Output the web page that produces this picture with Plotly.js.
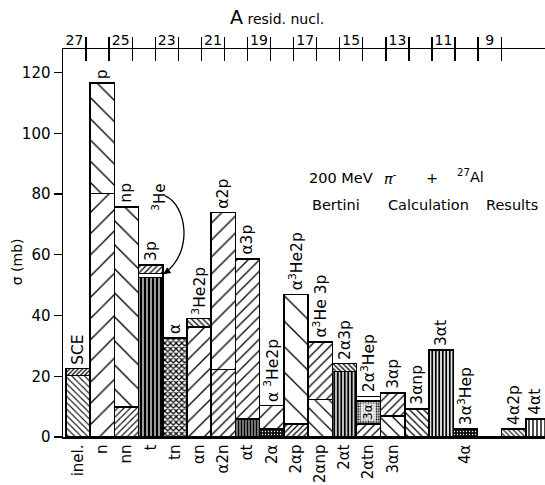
<!DOCTYPE html>
<html><head><meta charset="utf-8">
<script src="https://cdn.plot.ly/plotly-3.0.1.min.js"></script>
<style>html,body{margin:0;padding:0;background:#fff}#chart{width:545px;height:485px}</style>
</head><body><div id="chart"></div>
<script>
// ---- data ----
const bottomLabels = ['inel.','n','nn','t','tn','αn','α2n','αt','2α','2αp','2αnp','2αt','2αtn','3αn','','','4α','','',''];
const topLabels = ['SCE','p','np','3p','α','<sup>3</sup>He2p','α2p','α3p','α <sup>3</sup>He2p','α<sup>3</sup>He2p','α<sup>3</sup>He 3p','2α3p','2α<sup>3</sup>Hep','3αp','3αnp','3αt','3α<sup>3</sup>Hep','','4α2p','4αt'];
const lowerValues  = [20.3, 80.2, 9.9, 52.5, 32.6, 36.2, 22.3, 6.0, 2.6, 4.3, 12.3, 21.5, 4.3, 7.0, 9.3, 28.7, 2.7, 0, 2.6, 6.0];
const middleValues = [0, 0, 0, 1.3, 0, 0, 0, 0, 0, 0, 0, 0, 7.6, 0, 0, 0, 0, 0, 0, 0];
const upperValues  = [2.2, 36.4, 65.8, 2.8, 0, 2.8, 51.7, 52.6, 7.7, 42.7, 19.0, 2.7, 1.4, 7.5, 0, 0, 0, 0, 0, 0];
const residA = [27, 25, 23, 21, 19, 17, 15, 13, 11, 9];
const residBounds = [26.5, 25.5, 24.5, 23.5, 22.5, 21.5, 20.5, 19.5, 18.5, 17.5, 16.5, 15.5, 14.5, 13.5, 12.5, 11.5, 10.5, 9.5, 8.5];
const yTicks = [0, 20, 40, 60, 80, 100, 120];

// ---- styles ----
const F = 'DejaVu Sans';
const W = '#fff', K = '#000';
const lowerStyle = {
  shape:    ['\\','/','/','|','x','/','/','|','.','/','\\','|','/','\\','\\','|','.','','\\','|'],
  size:     [4.5, 15, 4.5, 4, 4, 11, 7, 3, 3, 4, 10, 3.5, 6, 9, 5, 3.5, 3, 4, 3.5, 4],
  solidity: [0.25,0.09,0.25,0.7,0.5,0.12,0.18,0.7,0.15,0.3,0.12,0.6,0.2,0.14,0.25,0.55,0.15,0.2,0.3,0.35],
  fg: [K,K,K,K,K,K,K,K,W,K,K,K,K,K,K,K,W,K,K,K],
  bg: [W,W,W,W,W,W,W,W,'#111',W,W,W,W,W,W,W,'#111',W,W,W]
};
const middleStyle = {
  shape:    ['','','','','','','','','','','','','.','','','','','','',''],
  size:     Array(20).fill(2.6),
  solidity: Array(20).fill(0.45)
};
const upperStyle = {
  shape:    ['/','\\','\\','/','','\\','/','/','/','\\','/','\\','','/','','','','','',''],
  size:     [3, 15, 17, 4, 4, 4, 12, 8, 10, 18, 7, 3.5, 4, 6, 4, 4, 4, 4, 4, 4],
  solidity: [0.4,0.09,0.08,0.3,0.3,0.3,0.11,0.16,0.13,0.075,0.18,0.35,0.3,0.2,0.3,0.3,0.3,0.3,0.3,0.3]
};

const idx = bottomLabels.map((_, i) => i);
const labelled = idx.filter(i => bottomLabels[i] !== '');
const line = {color: K, width: 1.5};

function barTrace(vals, st) {
  return {
    type: 'bar', x: idx, y: vals, width: 1, hoverinfo: 'skip',
    marker: {color: W, line: line,
      pattern: {shape: st.shape, size: st.size, solidity: st.solidity,
        fgcolor: st.fg || K, bgcolor: st.bg || W, fgopacity: 1}}
  };
}
const traces = [barTrace(lowerValues, lowerStyle), barTrace(middleValues, middleStyle), barTrace(upperValues, upperStyle)];
// invisible anchors so the top (residual-nucleus) axes are built
['x2', 'x3', 'x4'].forEach(ax => traces.push({type: 'scatter', mode: 'markers', x: [residA[0]], y: [0], xaxis: ax,
  marker: {opacity: 0, size: 1}, hoverinfo: 'skip', showlegend: false}));

const annotations = [];
topLabels.forEach((t, i) => {
  if (!t) return;
  const tot = lowerValues[i] + middleValues[i] + upperValues[i];
  annotations.push({x: i, y: tot, xref: 'x', yref: 'y', text: t, textangle: -90, showarrow: false,
    xanchor: 'center', yanchor: 'bottom', yshift: 2, xshift: i === idx.length - 1 ? -3 : 0,
    font: {family: F, size: 15.5, color: K}});
});
// 3He label with curved arrow
annotations.push({x: 3.35, y: 73.8, xref: 'x', yref: 'y', text: '<sup>3</sup>He', textangle: -90, showarrow: false,
  xanchor: 'center', yanchor: 'bottom', font: {family: F, size: 15, color: K}});
annotations.push({x: 3.52, y: 53.6, xref: 'x', yref: 'y', text: '', showarrow: true, arrowhead: 2, arrowsize: 1.2,
  arrowwidth: 1.2, ax: 7, ay: -5, arrowcolor: K});
// 3α inside bar
annotations.push({x: 12, y: lowerValues[12] + middleValues[12] / 2, xref: 'x', yref: 'y', text: '3α', textangle: -90,
  showarrow: false, font: {family: F, size: 12, color: K}, bgcolor: 'rgba(255,255,255,0.75)', borderpad: 0});
// axis titles and texts
annotations.push({x: 0.445, y: 1.0825, xref: 'paper', yref: 'paper', xanchor: 'center', yanchor: 'middle', showarrow: false,
  text: '<span style="font-size:19px">A</span> <span style="font-size:14px">resid. nucl.</span>',
  font: {family: F, size: 14, color: K}});
annotations.push({x: -0.095, y: 0.451, xref: 'paper', yref: 'paper', xanchor: 'center', yanchor: 'middle',
  showarrow: false, textangle: -90, text: 'σ (mb)', font: {family: F, size: 14, color: K}});
const tf = {family: F, size: 14.5, color: K};
const py = p => (437 - p) / 388, px = p => (p - 63) / 482;
[['200 MeV', 307, 178], ['<i>π</i><sup>-</sup>', 382, 178], ['+', 424, 178], ['<sup>27</sup>Al', 455, 176],
 ['Bertini', 310, 205], ['Calculation', 386, 205], ['Results', 484, 205]].forEach(a => {
  annotations.push({x: px(a[1]), y: py(a[2]), xref: 'paper', yref: 'paper', xanchor: 'left', yanchor: 'middle',
    showarrow: false, text: a[0], font: tf});
});

const shapes = [{type: 'path', xref: 'x', yref: 'y', line: {color: K, width: 1.3},
  path: 'M 3.59,79.4 C 4.5,76.4 4.75,61.0 3.63,54.4'}];

const topAxis = {overlaying: 'x', anchor: 'y', side: 'top', range: [27.5, 6.6], tickmode: 'array',
  showgrid: false, zeroline: false, fixedrange: true};
const layout = {
  width: 545, height: 485, margin: {l: 63, r: 0, t: 49, b: 48},
  paper_bgcolor: W, plot_bgcolor: W, showlegend: false, barmode: 'stack', bargap: 0,
  font: {family: F, color: K},
  xaxis: {range: [-0.624, 19.29], tickmode: 'array', tickvals: labelled, ticktext: labelled.map(i => bottomLabels[i]),
    tickangle: -90, ticks: '', showline: true, linecolor: K, linewidth: 1.5, showgrid: false, zeroline: false,
    tickfont: {family: F, size: 15, color: K}, fixedrange: true},
  xaxis2: Object.assign({}, topAxis, {tickvals: residBounds, ticks: 'outside', ticklen: 11, tickwidth: 1.3,
    tickcolor: K, showticklabels: false, showline: true, linecolor: K, linewidth: 1.5}),
  xaxis3: Object.assign({}, topAxis, {tickvals: residBounds, ticks: 'inside', ticklen: 12, tickwidth: 1.3,
    tickcolor: K, showticklabels: false, showline: false}),
  xaxis4: Object.assign({}, topAxis, {tickvals: residA, ticks: '', showticklabels: true, showline: false,
    tickfont: {family: F, size: 14, color: K}}),
  yaxis: {range: [0, 127.8], tickmode: 'array', tickvals: yTicks, ticks: 'outside', ticklen: 8, tickwidth: 1.3,
    tickcolor: K, showline: true, linecolor: K, linewidth: 1.5, showgrid: false, zeroline: false,
    tickfont: {family: F, size: 15, color: K}, fixedrange: true},
  annotations: annotations, shapes: shapes
};
Plotly.newPlot('chart', traces, layout, {staticPlot: true, displayModeBar: false});
</script></body></html>
